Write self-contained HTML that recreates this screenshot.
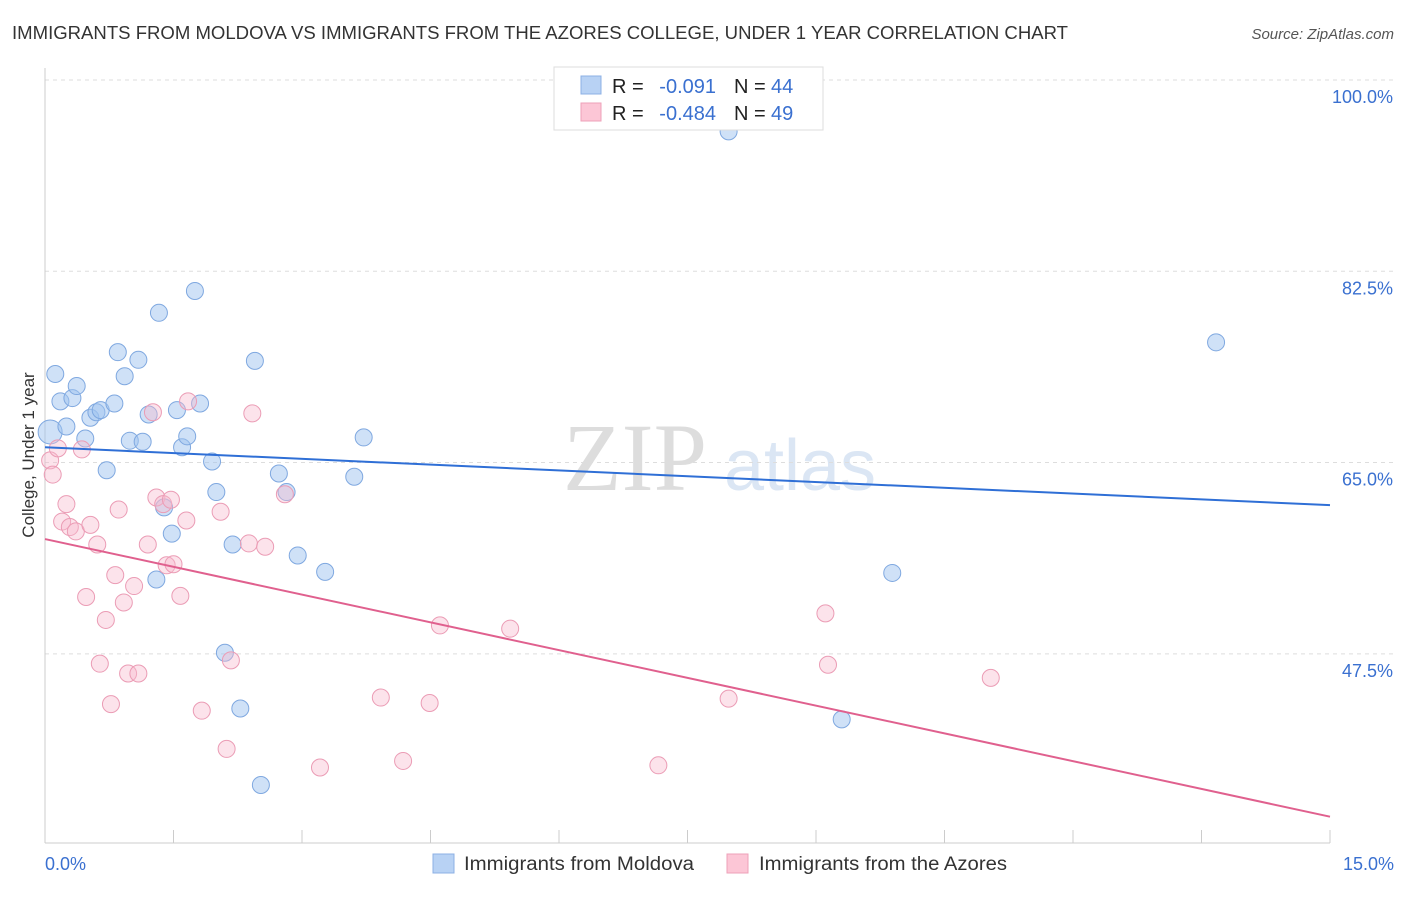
<!DOCTYPE html>
<html><head><meta charset="utf-8"><style>
body{margin:0;background:#fff;font-family:"Liberation Sans",sans-serif;}
</style></head><body>
<svg id="c" width="1406" height="892" xmlns="http://www.w3.org/2000/svg">
<text x="12" y="39" font-size="18" fill="#333" textLength="1056" lengthAdjust="spacingAndGlyphs">IMMIGRANTS FROM MOLDOVA VS IMMIGRANTS FROM THE AZORES COLLEGE, UNDER 1 YEAR CORRELATION CHART</text>
<text x="1394" y="39" font-size="15" fill="#555" font-style="italic" text-anchor="end">Source: ZipAtlas.com</text>
<text x="635" y="490" font-size="96" fill="#ddd" font-family="Liberation Serif" text-anchor="middle">ZIP</text>
<text x="800" y="490" font-size="72" fill="#dbe6f4" text-anchor="middle">atlas</text>
<g id="grid"></g><g id="axes"></g><g id="pts"></g><g id="lines"></g>
<text x="34" y="455" font-size="17" fill="#333" text-anchor="middle" transform="rotate(-90 34 455)">College, Under 1 year</text>
<text x="45" y="870" font-size="18" fill="#3a70d0">0.0%</text>
<text x="1394" y="870" font-size="18" fill="#3a70d0" text-anchor="end">15.0%</text>
<g>
<rect x="554" y="67" width="269" height="63" fill="#fff" stroke="#ddd"/>
<rect x="581" y="76" width="20" height="18" fill="#b8d2f4" stroke="#8cb0e4"/>
<rect x="581" y="103" width="20" height="18" fill="#fcc6d6" stroke="#eea0b8"/>
<text x="612" y="93" font-size="20" fill="#222">R =</text>
<text x="716" y="93" font-size="20" fill="#3a70d0" text-anchor="end">-0.091</text>
<text x="734" y="93" font-size="20" fill="#222">N =</text>
<text x="771" y="93" font-size="20" fill="#3a70d0">44</text>
<text x="612" y="120" font-size="20" fill="#222">R =</text>
<text x="716" y="120" font-size="20" fill="#3a70d0" text-anchor="end">-0.484</text>
<text x="734" y="120" font-size="20" fill="#222">N =</text>
<text x="771" y="120" font-size="20" fill="#3a70d0">49</text>
</g>
<g>
<rect x="433" y="854" width="21" height="19" fill="#b8d2f4" stroke="#8cb0e4"/>
<text x="464" y="870" font-size="19" fill="#333" textLength="230" lengthAdjust="spacingAndGlyphs">Immigrants from Moldova</text>
<rect x="727" y="854" width="21" height="19" fill="#fcc6d6" stroke="#eea0b8"/>
<text x="759" y="870" font-size="19" fill="#333" textLength="248" lengthAdjust="spacingAndGlyphs">Immigrants from the Azores</text>
</g>
</svg>
<script>
const yTicks=[100,82.5,65,47.5];
const yTickLabels=["100.0%","82.5%","65.0%","47.5%"];
const blueX=[.06,.12,.18,.25,.32,.37,.47,.53,.60,.65,.72,.81,.85,.93,.99,1.09,1.14,1.21,1.33,1.39,1.48,1.54,1.60,1.66,1.75,1.81,1.95,2.00,2.10,2.19,2.28,2.45,2.52,2.73,2.82,2.95,3.27,3.61,3.72,1.30,7.98,9.30,9.89,13.67];
const blueY=[67.8,73.1,70.6,68.3,70.9,72.0,67.2,69.1,69.6,69.8,64.3,70.4,75.1,72.9,67.0,74.4,66.9,69.4,78.7,60.9,58.5,69.8,66.4,67.4,80.7,70.4,65.1,62.3,47.6,57.5,42.5,74.3,35.5,64.0,62.3,56.5,55.0,63.7,67.3,54.3,95.3,41.5,54.9,76.0];
const pinkX=[.06,.09,.15,.25,.20,.29,.36,.43,.53,.48,.61,.64,.71,.77,.82,.86,.92,.97,1.04,1.09,1.20,1.26,1.30,1.38,1.42,1.47,1.50,1.58,1.65,1.67,1.83,2.05,2.12,2.17,2.38,2.42,2.57,2.80,3.21,3.92,4.18,4.49,4.61,5.43,7.16,7.98,9.11,9.14,11.04];
const pinkY=[65.2,63.9,66.3,61.2,59.6,59.1,58.7,66.2,59.3,52.7,57.5,46.6,50.6,42.9,54.7,60.7,52.2,45.7,53.7,45.7,57.5,69.6,61.8,61.2,55.6,61.6,55.7,52.8,59.7,70.6,42.3,60.5,38.8,46.9,57.6,69.5,57.3,62.1,37.1,43.5,37.7,43.0,50.1,49.8,37.3,43.4,51.2,46.5,45.3];
const blueTrend=[66.4,61.1];
const pinkTrend=[58.0,32.6];
const X=v=>45+v/15*1285;
const Y=v=>80+(100-v)*10.93;
const NS="http://www.w3.org/2000/svg";
function mk(t,a,p){const e=document.createElementNS(NS,t);for(const k in a)e.setAttribute(k,a[k]);document.getElementById(p).appendChild(e);return e;}
yTicks.forEach((t,i)=>{
 const l=mk('line',{x1:45,x2:1394,y1:Y(t),y2:Y(t),stroke:'#ddd','stroke-dasharray':'4 4'},'grid');
 
 
 const tx=mk('text',{x:1393,y:Y(t)+23,'font-size':18,fill:'#3a70d0','text-anchor':'end'},'grid');
 tx.textContent=yTickLabels[i];
 
 
});
let a=mk('line',{x1:45,x2:45,y1:68,y2:843,stroke:'#ccc'},'axes');


a=mk('line',{x1:45,x2:1330,y1:843,y2:843,stroke:'#ccc'},'axes');


for(let i=0;i<=10;i++){const t=mk('line',{x1:X(i*1.5),x2:X(i*1.5),y1:830,y2:843,stroke:'#ccc'},'axes');
 
 }
blueX.forEach((v,i)=>{const c=mk('circle',{cx:X(v),cy:Y(blueY[i]),r:i==0?12:8.5,fill:'rgba(160,195,240,0.5)',stroke:'#7fa8e0','stroke-width':1},'pts');
 
 });
pinkX.forEach((v,i)=>{const c=mk('circle',{cx:X(v),cy:Y(pinkY[i]),r:8.5,fill:'rgba(248,185,205,0.4)',stroke:'#eb9cb5','stroke-width':1},'pts');
 
 });
let l=mk('line',{x1:X(0),x2:X(15),y1:Y(blueTrend[0]),y2:Y(blueTrend[1]),stroke:'#2f6fd6','stroke-width':2},'lines');


l=mk('line',{x1:X(0),x2:X(15),y1:Y(pinkTrend[0]),y2:Y(pinkTrend[1]),stroke:'#e0608e','stroke-width':2},'lines');


</script>
</body></html>
